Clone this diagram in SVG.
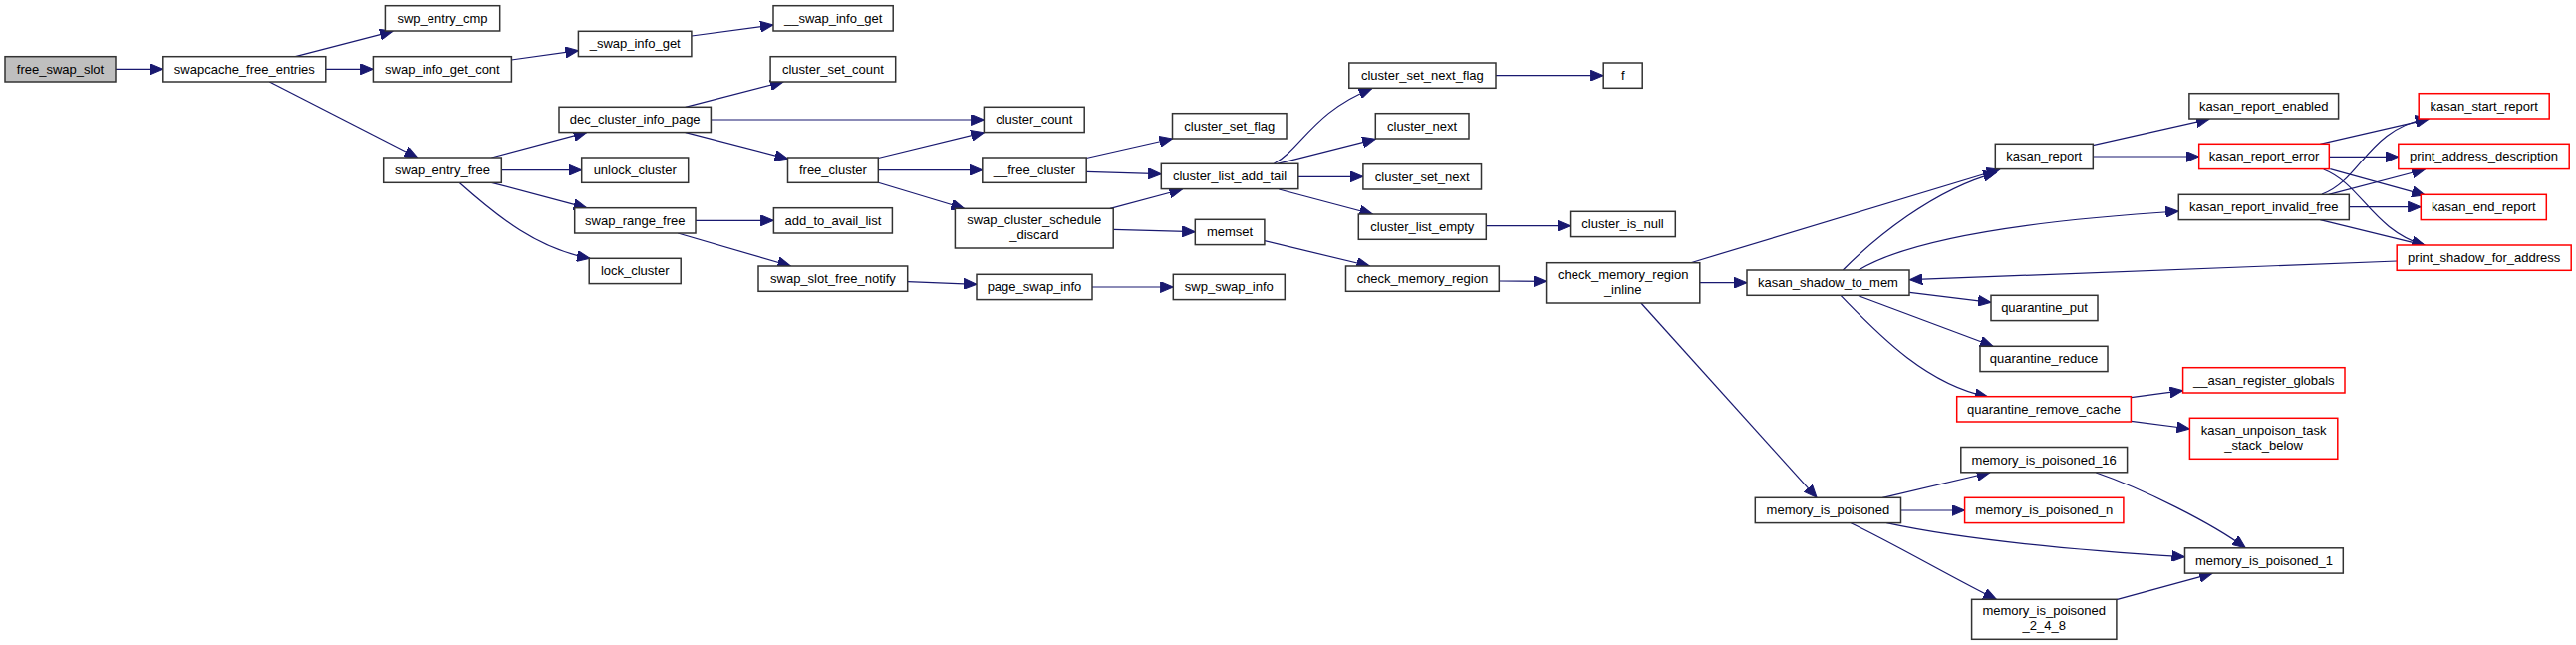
<svg xmlns="http://www.w3.org/2000/svg" width="2585" height="647" viewBox="0 0 2585 647">
<style>
.n rect{fill:#fff;stroke:#333;stroke-width:1.5}
.r rect{stroke:#f00}
.root rect{fill:#bfbfbf}
text{font-family:"Liberation Sans",Arial,Helvetica,sans-serif;font-size:13px;text-anchor:middle;fill:#000}
.e path{fill:none;stroke:#191970;stroke-width:1.2;marker-end:url(#a)}
</style>
<defs>
<marker id="a" markerUnits="userSpaceOnUse" markerWidth="14" markerHeight="11" refX="13" refY="5.5" orient="auto">
<path d="M0,0 L13,5.5 L0,11 z" fill="#191970" stroke="#191970" stroke-width="1"/>
</marker>
</defs>
<rect width="2585" height="647" fill="#fff"/>
<g id="edges" class="e">
<path d="M116,69.3 L163.8,69.3"/>
<path d="M296.4,56.7 L393.9,31.3"/>
<path d="M326.7,69.3 L374.4,69.3"/>
<path d="M270.3,82 L418.7,158"/>
<path d="M513.3,60 L580.4,50.7"/>
<path d="M694,36 L776,25"/>
<path d="M493.4,158 L588.7,132.7"/>
<path d="M503.3,170.7 L583.7,170.7"/>
<path d="M493.4,183.3 L588.7,208.7"/>
<path d="M461,183.3 C500,218 540,250 592,259.3"/>
<path d="M687.7,107.3 L786,82"/>
<path d="M713.4,120 L987.4,120"/>
<path d="M687.7,132.7 L790.5,159.3"/>
<path d="M881.3,158.5 L987.4,132.7"/>
<path d="M881.3,170.7 L985.8,170.7"/>
<path d="M881.3,183.3 L967.5,209.3"/>
<path d="M1090.2,158.5 L1176.5,139"/>
<path d="M1090.2,172.3 L1165.3,174.7"/>
<path d="M1114,209.3 L1186.4,190"/>
<path d="M1117.2,230.3 L1199.3,232.7"/>
<path d="M1269,241.7 L1374.5,267"/>
<path d="M698,221.3 L776.4,221.3"/>
<path d="M680.2,234 L793.4,267"/>
<path d="M910.7,282.7 L980,285.3"/>
<path d="M1096,288 L1177.3,288"/>
<path d="M1278.3,164.3 C1305,150 1318,112 1376.7,88.7"/>
<path d="M1281.7,164.3 L1380.3,139.3"/>
<path d="M1302.8,177.3 L1367.9,177.3"/>
<path d="M1283.3,190 L1377.4,215"/>
<path d="M1501,75.7 L1609.2,75.7"/>
<path d="M1491.4,226.7 L1575.6,226.7"/>
<path d="M1504.3,282 L1551.6,282.3"/>
<path d="M1705.8,283.7 L1753,283.7"/>
<path d="M1696.7,263.7 L2006.7,170"/>
<path d="M1646.9,304 L1823.1,499.3"/>
<path d="M1849.3,271 C1880,240 1940,190 2003.3,173.3"/>
<path d="M1865,271 C1900,250 1980,225 2186.3,212"/>
<path d="M2405.2,262 L1916.4,280.7"/>
<path d="M1916.4,293.3 L1998,303.3"/>
<path d="M1865,296.7 L2000,347.3"/>
<path d="M1847.3,296.7 C1880,330 1930,385 1995,398"/>
<path d="M2100.2,145.7 L2216.9,119.3"/>
<path d="M2100.2,157 L2206.7,157"/>
<path d="M2328.3,144.3 L2437,119.3"/>
<path d="M2337.3,157.3 L2406.8,157.3"/>
<path d="M2338.3,169.7 L2433.3,195.8"/>
<path d="M2331.7,170 C2370,185 2380,230 2433.3,246.5"/>
<path d="M2330,195 C2370,180 2375,130 2436.7,118.5"/>
<path d="M2336.7,195.3 L2433.3,170"/>
<path d="M2357.3,207.7 L2429.3,207.7"/>
<path d="M2328.3,220.7 L2433.3,246.3"/>
<path d="M2138.4,398.7 L2190.6,391.7"/>
<path d="M2138.4,422.3 L2197.4,430"/>
<path d="M1889.3,499.3 L1996.7,474"/>
<path d="M1907.7,512 L1971.6,512"/>
<path d="M1893.3,524.7 C1950,537 2050,550 2192.5,558.7"/>
<path d="M1857.3,524.7 C1900,545 1960,580 2003.3,601.3"/>
<path d="M2103.3,474 C2150,490 2220,525 2253.3,549.8"/>
<path d="M2123.7,601.7 L2220,575.3"/>
</g>
<g id="free_swap_slot" class="n root"><rect x="5" y="56.7" width="111" height="25.3"/><text x="60.5" y="73.8">free_swap_slot</text></g>
<g id="swapcache_free_entries" class="n"><rect x="163.8" y="56.7" width="163" height="25.3"/><text x="245.3" y="73.8">swapcache_free_entries</text></g>
<g id="swp_entry_cmp" class="n"><rect x="386.4" y="5.7" width="115.3" height="25.3"/><text x="444" y="22.8">swp_entry_cmp</text></g>
<g id="swap_info_get_cont" class="n"><rect x="374.4" y="56.7" width="139" height="25.3"/><text x="443.9" y="73.8">swap_info_get_cont</text></g>
<g id="_swap_info_get" class="n"><rect x="580.4" y="31.3" width="113.5" height="25.3"/><text x="637.2" y="48.4">_swap_info_get</text></g>
<g id="__swap_info_get" class="n"><rect x="776" y="5.7" width="120.2" height="25.3"/><text x="836.1" y="22.8">__swap_info_get</text></g>
<g id="dec_cluster_info_page" class="n"><rect x="561" y="107.3" width="152.4" height="25.3"/><text x="637.2" y="124.4">dec_cluster_info_page</text></g>
<g id="swap_entry_free" class="n"><rect x="384.7" y="158" width="118.6" height="25.3"/><text x="444" y="175.1">swap_entry_free</text></g>
<g id="unlock_cluster" class="n"><rect x="583.7" y="158" width="107" height="25.3"/><text x="637.2" y="175.1">unlock_cluster</text></g>
<g id="swap_range_free" class="n"><rect x="576.7" y="208.7" width="121.3" height="25.3"/><text x="637.3" y="225.8">swap_range_free</text></g>
<g id="lock_cluster" class="n"><rect x="591.2" y="259.3" width="92" height="25.3"/><text x="637.2" y="276.4">lock_cluster</text></g>
<g id="cluster_set_count" class="n"><rect x="773.1" y="56.7" width="125.6" height="25.3"/><text x="835.9" y="73.8">cluster_set_count</text></g>
<g id="cluster_count" class="n"><rect x="987.4" y="107.3" width="100.8" height="25.3"/><text x="1037.8" y="124.4">cluster_count</text></g>
<g id="free_cluster" class="n"><rect x="790.5" y="158" width="90.8" height="25.3"/><text x="835.9" y="175.1">free_cluster</text></g>
<g id="__free_cluster" class="n"><rect x="985.8" y="158" width="104.4" height="25.3"/><text x="1038" y="175.1">__free_cluster</text></g>
<g id="add_to_avail_list" class="n"><rect x="776.4" y="208.7" width="119" height="25.3"/><text x="835.9" y="225.8">add_to_avail_list</text></g>
<g id="swap_cluster_schedule_discard" class="n"><rect x="958.4" y="209.3" width="158.8" height="39.7"/><text x="1037.8" y="225.3">swap_cluster_schedule</text><text x="1037.8" y="240.3">_discard</text></g>
<g id="swap_slot_free_notify" class="n"><rect x="761" y="267" width="149.7" height="25.3"/><text x="835.9" y="284.1">swap_slot_free_notify</text></g>
<g id="page_swap_info" class="n"><rect x="980" y="275.3" width="116" height="25.3"/><text x="1038" y="292.4">page_swap_info</text></g>
<g id="swp_swap_info" class="n"><rect x="1177.3" y="275.3" width="112" height="25.3"/><text x="1233.3" y="292.4">swp_swap_info</text></g>
<g id="cluster_set_flag" class="n"><rect x="1176.5" y="113.7" width="114.5" height="25.3"/><text x="1233.8" y="130.8">cluster_set_flag</text></g>
<g id="cluster_list_add_tail" class="n"><rect x="1165.3" y="164.3" width="137.5" height="25.3"/><text x="1234" y="181.4">cluster_list_add_tail</text></g>
<g id="memset" class="n"><rect x="1199.3" y="220.3" width="69.6" height="25.3"/><text x="1234.1" y="237.4">memset</text></g>
<g id="cluster_set_next_flag" class="n"><rect x="1353.8" y="63" width="147.2" height="25.3"/><text x="1427.4" y="80.1">cluster_set_next_flag</text></g>
<g id="f" class="n"><rect x="1609.2" y="63" width="39" height="25.3"/><text x="1628.7" y="80.1">f</text></g>
<g id="cluster_next" class="n"><rect x="1380.3" y="113.7" width="93.7" height="25.3"/><text x="1427.1" y="130.8">cluster_next</text></g>
<g id="cluster_set_next" class="n"><rect x="1367.9" y="164.7" width="118.6" height="25.3"/><text x="1427.2" y="181.8">cluster_set_next</text></g>
<g id="cluster_list_empty" class="n"><rect x="1363.3" y="215" width="128" height="25.3"/><text x="1427.3" y="232.1">cluster_list_empty</text></g>
<g id="cluster_is_null" class="n"><rect x="1575.6" y="212.3" width="105.7" height="25.3"/><text x="1628.5" y="229.4">cluster_is_null</text></g>
<g id="check_memory_region" class="n"><rect x="1350.5" y="267" width="153.8" height="25.3"/><text x="1427.4" y="284.1">check_memory_region</text></g>
<g id="check_memory_region_inline" class="n"><rect x="1551.6" y="263.7" width="154.2" height="40.3"/><text x="1628.7" y="279.7">check_memory_region</text><text x="1628.7" y="294.7">_inline</text></g>
<g id="kasan_shadow_to_mem" class="n"><rect x="1753" y="271" width="163" height="25.3"/><text x="1834.5" y="288.1">kasan_shadow_to_mem</text></g>
<g id="memory_is_poisoned" class="n"><rect x="1761.3" y="499.3" width="146.2" height="25.3"/><text x="1834.4" y="516.4">memory_is_poisoned</text></g>
<g id="kasan_report_enabled" class="n"><rect x="2196.9" y="93.7" width="149.7" height="25.3"/><text x="2271.8" y="110.8">kasan_report_enabled</text></g>
<g id="kasan_start_report" class="n r"><rect x="2427.2" y="93.7" width="131" height="25.3"/><text x="2492.7" y="110.8">kasan_start_report</text></g>
<g id="kasan_report" class="n"><rect x="2002.3" y="144.3" width="98" height="25.3"/><text x="2051.3" y="161.4">kasan_report</text></g>
<g id="kasan_report_error" class="n r"><rect x="2206.7" y="144.3" width="130.6" height="25.3"/><text x="2272" y="161.4">kasan_report_error</text></g>
<g id="print_address_description" class="n r"><rect x="2406.8" y="144.3" width="171.4" height="25.3"/><text x="2492.5" y="161.4">print_address_description</text></g>
<g id="kasan_report_invalid_free" class="n"><rect x="2186.3" y="195.3" width="171" height="25.3"/><text x="2271.8" y="212.4">kasan_report_invalid_free</text></g>
<g id="kasan_end_report" class="n r"><rect x="2429.3" y="195.3" width="126" height="25.3"/><text x="2492.3" y="212.4">kasan_end_report</text></g>
<g id="print_shadow_for_address" class="n r"><rect x="2405.2" y="246" width="175" height="25.3"/><text x="2492.7" y="263.1">print_shadow_for_address</text></g>
<g id="quarantine_put" class="n"><rect x="1998" y="296.3" width="107" height="25.3"/><text x="2051.5" y="313.4">quarantine_put</text></g>
<g id="quarantine_reduce" class="n"><rect x="1987" y="347.3" width="128" height="25.3"/><text x="2051" y="364.4">quarantine_reduce</text></g>
<g id="quarantine_remove_cache" class="n r"><rect x="1963.7" y="397.7" width="174.7" height="25.3"/><text x="2051" y="414.8">quarantine_remove_cache</text></g>
<g id="__asan_register_globals" class="n r"><rect x="2190.6" y="368.7" width="162.4" height="25.3"/><text x="2271.8" y="385.8">__asan_register_globals</text></g>
<g id="kasan_unpoison_task_stack_below" class="n r"><rect x="2197.4" y="419.3" width="148.4" height="41"/><text x="2271.6" y="435.6">kasan_unpoison_task</text><text x="2271.6" y="450.6">_stack_below</text></g>
<g id="memory_is_poisoned_16" class="n"><rect x="1967.8" y="448.5" width="166.8" height="25.3"/><text x="2051.2" y="465.6">memory_is_poisoned_16</text></g>
<g id="memory_is_poisoned_n" class="n r"><rect x="1971.6" y="499.3" width="159.3" height="25.3"/><text x="2051.2" y="516.4">memory_is_poisoned_n</text></g>
<g id="memory_is_poisoned_1" class="n"><rect x="2192.5" y="549.8" width="158.8" height="25.3"/><text x="2271.9" y="566.9">memory_is_poisoned_1</text></g>
<g id="memory_is_poisoned_2_4_8" class="n"><rect x="1978.6" y="601.3" width="145.3" height="40"/><text x="2051.2" y="617.3">memory_is_poisoned</text><text x="2051.2" y="632.3">_2_4_8</text></g>
</svg>
